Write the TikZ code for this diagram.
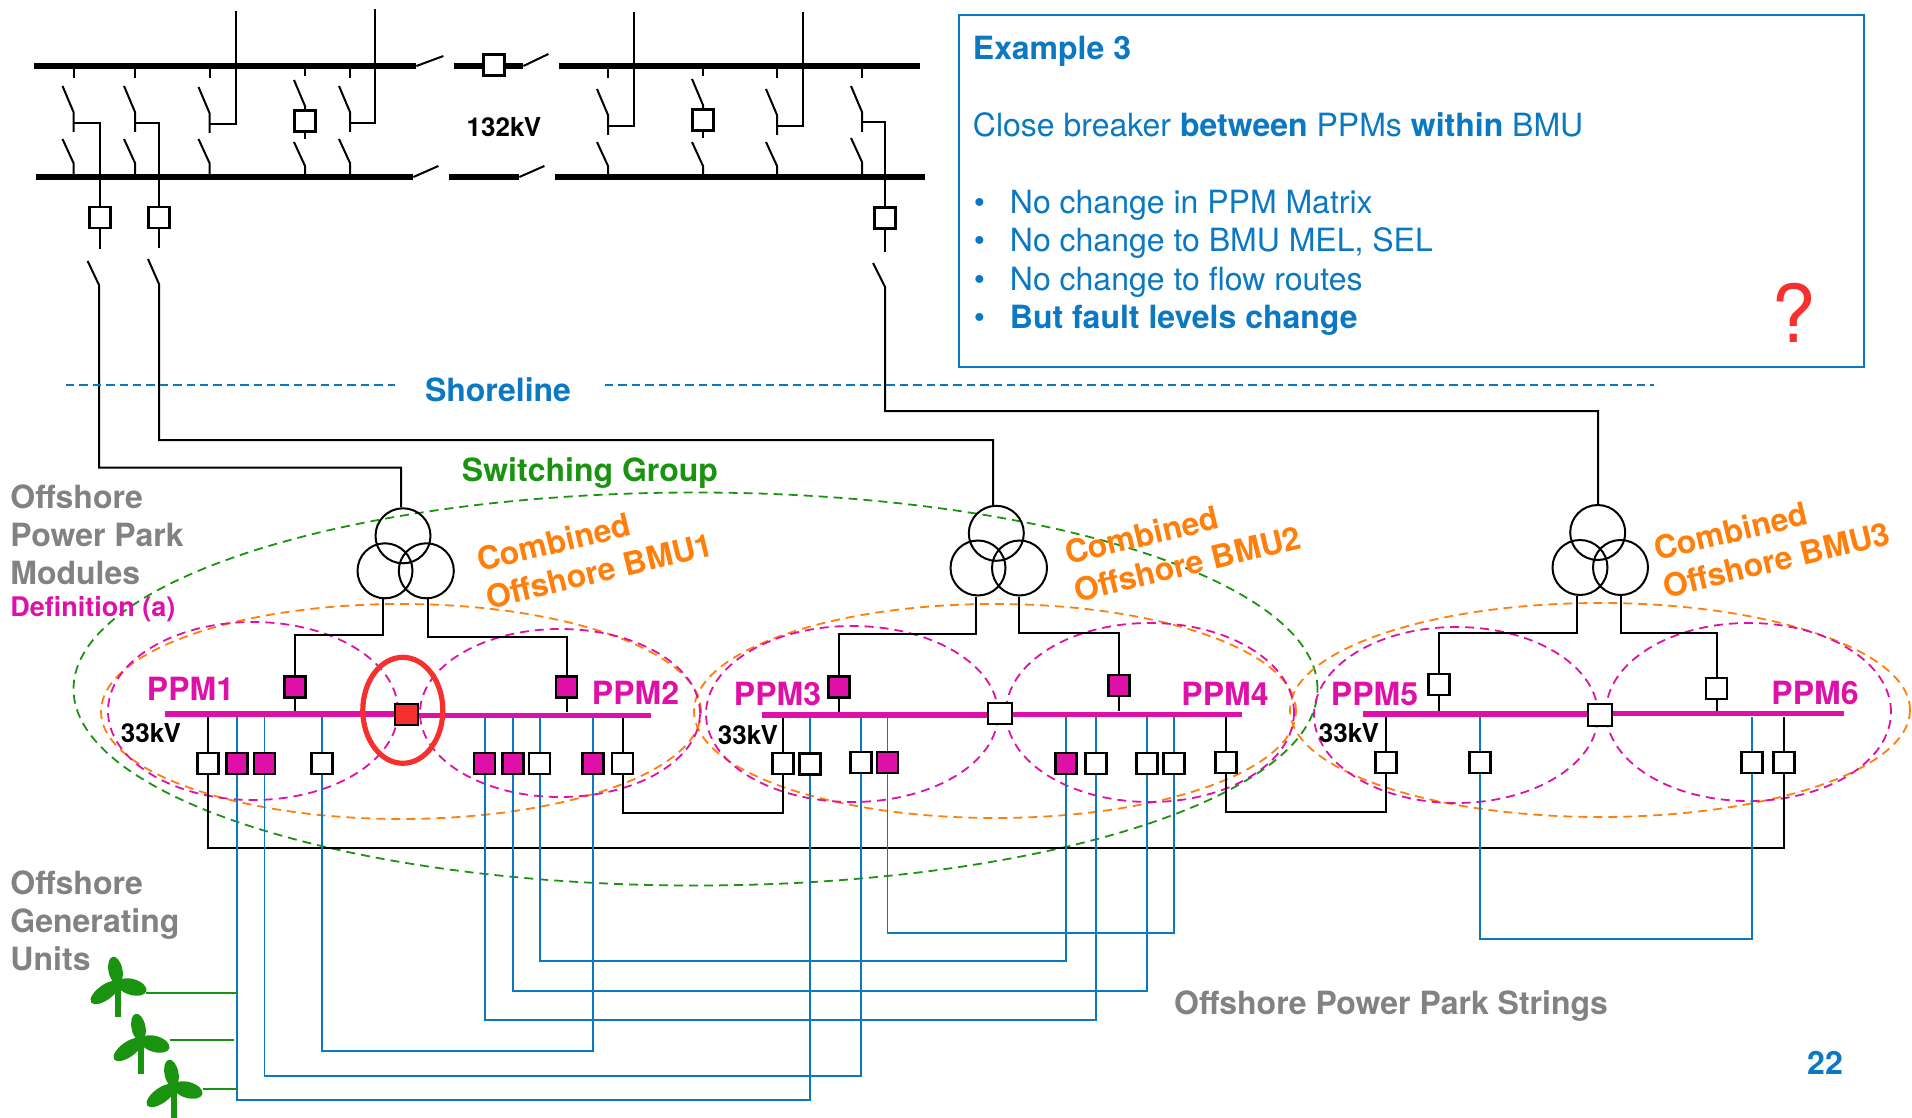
\documentclass[tikz,border=0pt]{standalone}
\usepackage{fontspec}
\setmainfont{TeX Gyre Heros}
\usepackage{tikz}
\usetikzlibrary{shapes.geometric, positioning}
\definecolor{ppmpink}{HTML}{DE10A8}
\definecolor{gengreen}{HTML}{1A9310}
\definecolor{cableblue}{HTML}{0A78C2}
\definecolor{bmuorange}{HTML}{FF7F0A}
\definecolor{labelgrey}{HTML}{828282}
\definecolor{closedred}{HTML}{F5302F}
\newcommand{\lbl}[1]{\fontsize{#1}{19.2}\selectfont\bfseries}
% disconnectors of one bay: x, upper blade, upper tail, lower blade
\newcommand{\bay}[4]{
	\draw[wire] (#1-11,#2) -- (#1,#2+26) -- (#1,#3);
	\draw[wire] (#1-11,#4) -- (#1,#4+24) -- (#1,175);
}
% wind turbine at hub x,y
\newcommand{\turbine}[2]{
	\fill[gengreen, rotate around={101:(#1-2.5,#2-12.5)}] (#1-2.5,#2-12.5) ellipse [x radius=14, y radius=7];
	\fill[gengreen, rotate around={-16:(#1+14,#2+4)}] (#1+14,#2+4) ellipse [x radius=15, y radius=8];
	\fill[gengreen, rotate around={36:(#1-13,#2+9.5)}] (#1-13,#2+9.5) ellipse [x radius=17, y radius=7.5];
	\draw[gengreen, line width=2.7pt] (#1,#2) -- (#1,#2+34);
}
\newcommand{\itm}{\hspace*{.5pt}\makebox[18pt][l]{\textbullet}}
\tikzset{%
    % bars
    hvbus/.style = {fill=black, inner sep=0pt, minimum height=3pt},
    ppmbus/.style = {fill=ppmpink, inner sep=0pt, minimum height=2.7pt},
    % connectors
    wire/.style = {line width=1pt, black},
    cable/.style = {line width=.9pt, cableblue},
    genwire/.style = {line width=1pt, gengreen},
    % breakers
    swoff/.style = {draw, line width=1.05pt, fill=white, inner sep=0pt, minimum width=10.5pt, minimum height=10.5pt},
    swon/.style = {swoff, fill=ppmpink},
    winding/.style = {draw, circle, line width=1pt, inner sep=0pt, minimum size=27.5pt},
    % dashed groups
    group/.style = {draw, ellipse, inner sep=0pt, line width=.9pt, dash pattern=on 4.5pt off 3pt},
}
\begin{document}
\begin{tikzpicture}[x=0.5pt, y=-0.5pt]
	\useasboundingbox (0,0) rectangle (1912,1118);

	% groups
	\node[group, draw=gengreen, minimum width=622pt, minimum height=196.5pt] (sgroup) at (695.5,689) {};
	\node[group, draw=bmuorange, minimum width=300pt, minimum height=107.5pt] (bmu1) at (401,711.5) {};
	\node[group, draw=bmuorange, minimum width=301pt, minimum height=107pt] (bmu2) at (995,711) {};
	\node[group, draw=bmuorange, minimum width=310pt, minimum height=107pt] (bmu3) at (1600,710) {};
	\node[group, draw=ppmpink, minimum width=145pt, minimum height=89pt] (ppm1) at (253,711) {};
	\node[group, draw=ppmpink, minimum width=140pt, minimum height=84pt] (ppm2) at (560,713) {};
	\node[group, draw=ppmpink, minimum width=146pt, minimum height=88pt] (ppm3) at (852,714) {};
	\node[group, draw=ppmpink, minimum width=144pt, minimum height=89.5pt] (ppm4) at (1150,712.5) {};
	\node[group, draw=ppmpink, minimum width=142pt, minimum height=88pt] (ppm5) at (1456,715) {};
	\node[group, draw=ppmpink, minimum width=142.5pt, minimum height=89pt] (ppm6) at (1748.5,712) {};

	% 132kV bars
	\node[hvbus, minimum width=191pt] (hv1) at (225,66) {};
	\node[hvbus, minimum width=34.5pt] (hv1m) at (488.5,66) {};
	\node[hvbus, minimum width=180.5pt] (hv1r) at (739.5,66) {};
	\node[hvbus, minimum width=188.5pt] (hv2) at (224.5,177) {};
	\node[hvbus, minimum width=35pt] (hv2m) at (484,177) {};
	\node[hvbus, minimum width=185pt] (hv2r) at (740,177) {};
	\draw[wire] (hv1.east) -- ++(27,-10);
	\draw[wire] (hv1m.east) -- ++(25,-12);
	\draw[wire] (hv2.east) -- ++(25,-11);
	\draw[wire] (hv2m.east) -- ++(25,-11);
	\node[swoff] (cbm) at (494,65) {};

	% 132kV bays
	\bay{73.5}{86}{132}{139}
	\bay{135}{86}{132}{139}
	\bay{209.5}{87}{133}{139}
	\bay{305}{80}{110}{142}
	\bay{350}{86}{132}{139}
	\bay{608}{89}{135}{142}
	\bay{703}{79}{109}{142}
	\bay{777}{89}{135}{142}
	\bay{862}{86}{132}{138}
	\coordinate (q1) at (73.5,122.7);
	\coordinate (q2) at (135,122.7);
	\coordinate (q3) at (209.5,123.7);
	\coordinate (q4) at (305,75);
	\coordinate (q5) at (350,122.7);
	\coordinate (q6) at (608,125.7);
	\coordinate (q7) at (703,75);
	\coordinate (q8) at (777,126);
	\coordinate (q9) at (862,122);
	\draw[wire] (q1 |- hv1.south) -- ++(0,9);
	\draw[wire] (q2 |- hv1.south) -- ++(0,9);
	\draw[wire] (q3 |- hv1.south) -- ++(0,9);
	\draw[wire] (q4 |- hv1.south) -- ++(0,7);
	\draw[wire] (q5 |- hv1.south) -- ++(0,9);
	\draw[wire] (q6 |- hv1r.south) -- ++(0,9);
	\draw[wire] (q7 |- hv1r.south) -- ++(0,7);
	\draw[wire] (q8 |- hv1r.south) -- ++(0,9);
	\draw[wire] (q9 |- hv1r.south) -- ++(0,9);
	\node[swoff] (cb4) at (305,121) {};
	\node[swoff] (cb7) at (703,120) {};
	\draw[wire] (cb4.south) -- ++(0,6);
	\draw[wire] (cb7.south) -- ++(0,6);
	\coordinate (top3) at (236,11);
	\coordinate (top5) at (375.4,9);
	\coordinate (top6) at (634,12);
	\coordinate (top8) at (803,12);
	\draw[wire] (q3) -| (top3);
	\draw[wire] (q5) -| (top5);
	\draw[wire] (q6) -| (top6);
	\draw[wire] (q8) -| (top8);

	% feeders
	\node[swoff] (cb1) at (100,217.5) {};
	\node[swoff] (cb2) at (159,217.5) {};
	\node[swoff] (cb9) at (885,218) {};
	\draw[wire] (q1) -| (cb1.north);
	\draw[wire] (q2) -| (cb2.north);
	\draw[wire] (q9) -| (cb9.north);
	\draw[wire] (cb1.south) -- ++(0,20);
	\draw[wire] (cb2.south) -- ++(0,19);
	\draw[wire] (cb9.south) -- ++(0,22);

	% transformers
	\node[winding] (t1a) at (403,535.8) {};
	\node[winding] (t1b) at (385,570.8) {};
	\node[winding] (t1c) at (426.3,570.8) {};
	\node[winding] (t2a) at (996.3,533.3) {};
	\node[winding] (t2b) at (978,568) {};
	\node[winding] (t2c) at (1019.5,568) {};
	\node[winding] (t3a) at (1597.7,532.5) {};
	\node[winding] (t3b) at (1580,567.5) {};
	\node[winding] (t3c) at (1620.5,567.5) {};

	\coordinate (l1) at (99,285);
	\coordinate (l2) at (159,284);
	\coordinate (l3) at (885,287);
	\coordinate (r1) at (401,467.5);
	\coordinate (r2) at (993,440);
	\coordinate (r3) at (1598,411);
	\draw[wire] (87.6,261) -- (l1) |- (r1) -- (r1 |- t1a.north);
	\draw[wire] (148,259) -- (l2) |- (r2) -- (r2 |- t2a.north);
	\draw[wire] (873,263) -- (l3) |- (r3) -- (r3 |- t3a.north);

	% 33kV bars
	\node[ppmbus, minimum width=115pt] (pbar1) at (280,714) {};
	\node[ppmbus, minimum width=116.5pt] (pbar2) at (534.5,715.3) {};
	\node[ppmbus, minimum width=113pt] (pbar3) at (875,715) {};
	\node[ppmbus, minimum width=115pt] (pbar4) at (1127,714.3) {};
	\node[ppmbus, minimum width=112.5pt] (pbar5) at (1475,714) {};
	\node[ppmbus, minimum width=116pt] (pbar6) at (1727.5,713.7) {};
	\node[swoff, fill=closedred, minimum height=10.5pt, minimum width=11.5pt] (cs12) at (406.5,714.5) {};
	\node[swoff, minimum width=12pt] (cs34) at (1000,713.5) {};
	\node[swoff, minimum width=12pt, minimum height=11pt] (cs56) at (1599.6,715) {};
	\node[draw=closedred, ellipse, inner sep=0pt, line width=2.6pt, minimum width=40pt, minimum height=53pt] (closed) at (402.8,710.3) {};

	% transformer connections
	\node[swon] (c1) at (295,687) {};
	\node[swon] (c2) at (566.5,687) {};
	\node[swon] (c3) at (839,687) {};
	\node[swon] (c4) at (1119,685.5) {};
	\node[swoff] (c5) at (1439,684.5) {};
	\node[swoff] (c6) at (1716.5,688.7) {};
	\coordinate (d1b) at (382.5,635);
	\coordinate (d1c) at (428,636.7);
	\coordinate (d2b) at (975.5,634);
	\coordinate (d2c) at (1018.8,633.3);
	\coordinate (d3b) at (1577,633.3);
	\coordinate (d3c) at (1620.7,632.7);
	\draw[wire] (d1b |- t1b.south) -- (d1b) -| (c1.north);
	\draw[wire] (d1c |- t1c.south) -- (d1c) -| (c2.north);
	\draw[wire] (d2b |- t2b.south) -- (d2b) -| (c3.north);
	\draw[wire] (d2c |- t2c.south) -- (d2c) -| (c4.north);
	\draw[wire] (d3b |- t3b.south) -- (d3b) -| (c5.north);
	\draw[wire] (d3c |- t3c.south) -- (d3c) -| (c6.north);
	\draw[wire] (c1.south) -- (c1.south |- pbar1.north);
	\draw[wire] (c2.south) -- (c2.south |- pbar2.north);
	\draw[wire] (c3.south) -- (c3.south |- pbar3.north);
	\draw[wire] (c4.south) -- (c4.south |- pbar4.north);
	\draw[wire] (c5.south) -- (c5.south |- pbar5.north);
	\draw[wire] (c6.south) -- (c6.south |- pbar6.north);

	% string breakers
	\node[swoff] (sw1a) at (208,763.5) {};
	\node[swon] (sw1b) at (237,763.5) {};
	\node[swon] (sw1c) at (264.5,763.5) {};
	\node[swoff] (sw1d) at (322,763.5) {};
	\node[swon] (sw2a) at (484.8,763.5) {};
	\node[swon] (sw2b) at (513,763.5) {};
	\node[swoff] (sw2c) at (539.7,763.5) {};
	\node[swon] (sw2d) at (593,763.5) {};
	\node[swoff] (sw2e) at (622.5,763.5) {};
	\node[swoff] (sw3a) at (783,763.5) {};
	\node[swoff] (sw3b) at (810,764) {};
	\node[swoff] (sw3c) at (861,762.5) {};
	\node[swon] (sw3d) at (887.5,762.5) {};
	\node[swon] (sw4a) at (1066,763.5) {};
	\node[swoff] (sw4b) at (1096,763.5) {};
	\node[swoff] (sw4c) at (1147,763.5) {};
	\node[swoff] (sw4d) at (1174,763.5) {};
	\node[swoff] (sw4e) at (1226,762.5) {};
	\node[swoff] (sw5a) at (1386,762.5) {};
	\node[swoff] (sw5b) at (1480,762.5) {};
	\node[swoff] (sw6a) at (1752,762.5) {};
	\node[swoff] (sw6b) at (1784,762.5) {};

	% stubs up to the bars
	\draw[wire] (sw1a.north) -- (sw1a.north |- pbar1.south);
	\draw[cable] (sw1b.north) -- (sw1b.north |- pbar1.south);
	\draw[cable] (sw1c.north) -- (sw1c.north |- pbar1.south);
	\draw[cable] (sw1d.north) -- (sw1d.north |- pbar1.south);
	\draw[cable] (sw2a.north) -- (sw2a.north |- pbar2.south);
	\draw[cable] (sw2b.north) -- (sw2b.north |- pbar2.south);
	\draw[cable] (sw2c.north) -- (sw2c.north |- pbar2.south);
	\draw[cable] (sw2d.north) -- (sw2d.north |- pbar2.south);
	\draw[wire] (sw2e.north) -- (sw2e.north |- pbar2.south);
	\draw[wire] (sw3a.north) -- (sw3a.north |- pbar3.south);
	\draw[cable] (sw3b.north) -- (sw3b.north |- pbar3.south);
	\draw[cable] (sw3c.north) -- (sw3c.north |- pbar3.south);
	\draw[cable] (sw3d.north) -- (sw3d.north |- pbar3.south);
	\draw[cable] (sw4a.north) -- (sw4a.north |- pbar4.south);
	\draw[cable] (sw4b.north) -- (sw4b.north |- pbar4.south);
	\draw[cable] (sw4c.north) -- (sw4c.north |- pbar4.south);
	\draw[cable] (sw4d.north) -- (sw4d.north |- pbar4.south);
	\draw[wire] (sw4e.north) -- (sw4e.north |- pbar4.south);
	\draw[wire] (sw5a.north) -- (sw5a.north |- pbar5.south);
	\draw[cable] (sw5b.north) -- (sw5b.north |- pbar5.south);
	\draw[cable] (sw6a.north) -- (sw6a.north |- pbar6.south);
	\draw[wire] (sw6b.north) -- (sw6b.north |- pbar6.south);

	% ring links
	\draw[wire] (sw1a.south) -- (sw1a |- 0,848) -| (sw6b.south);
	\draw[wire] (sw2e.south) -- (sw2e |- 0,812.7) -| (sw3a.south);
	\draw[wire] (sw4e.south) -- (sw4e |- 0,811.7) -| (sw5a.south);

	% strings
	\draw[cable] (sw1b.south) -- (sw1b |- 0,1100) -| (sw3b.south);
	\draw[cable] (sw1c.south) -- (sw1c |- 0,1076) -| (sw3c.south);
	\draw[cable] (sw1d.south) -- (sw1d |- 0,1050.7) -| (sw2d.south);
	\draw[cable] (sw2a.south) -- (sw2a |- 0,1020.3) -| (sw4b.south);
	\draw[cable] (sw2b.south) -- (sw2b |- 0,990.7) -| (sw4c.south);
	\draw[cable] (sw2c.south) -- (sw2c |- 0,961) -| (sw4a.south);
	\draw[cable] (sw3d.south) -- (sw3d |- 0,933) -| (sw4d.south);
	\draw[cable] (sw5b.south) -- (sw5b |- 0,939) -| (sw6a.south);

	% turbines
	\turbine{118}{983}
	\turbine{141}{1040}
	\turbine{174}{1086}
	\coordinate (g1) at (146,992.7);
	\coordinate (g2) at (169.6,1040);
	\coordinate (g2e) at (234,1040);
	\coordinate (g3) at (203,1089);
	\draw[genwire] (g1) -- (g1 -| sw1b);
	\draw[genwire] (g2) -- (g2e);
	\draw[genwire] (g3) -- (g3 -| sw1b);

	% shoreline
	\node[text=cableblue, font=\lbl{16}] (shore) at (498,390) {Shoreline};
	\coordinate (sh1) at (66,385);
	\coordinate (sh2) at (395,385);
	\coordinate (sh3) at (605,385);
	\coordinate (sh4) at (1654,385);
	\draw[cableblue, line width=.9pt, dash pattern=on 4.2pt off 2.5pt] (sh1) -- (sh2);
	\draw[cableblue, line width=.9pt, dash pattern=on 4.2pt off 2.5pt] (sh3) -- (sh4);

	% labels
	\node[font=\lbl{13}] (kv132) at (504,127.5) {132kV};
	\node[font=\lbl{13}] (kv33a) at (151,732.7) {33kV};
	\node[font=\lbl{13}] (kv33b) at (748,735) {33kV};
	\node[font=\lbl{13}] (kv33c) at (1349,732.7) {33kV};
	\node[text=gengreen, font=\lbl{16}] (sglabel) at (590,473.5) {Switching Group};
	\node[text=ppmpink, font=\lbl{16}] (lab1) at (190.5,688.5) {PPM1};
	\node[text=ppmpink, font=\lbl{16}] (lab2) at (635.5,692.5) {PPM2};
	\node[text=ppmpink, font=\lbl{16}] (lab3) at (777.5,693.5) {PPM3};
	\node[text=ppmpink, font=\lbl{16}] (lab4) at (1225,693.5) {PPM4};
	\node[text=ppmpink, font=\lbl{16}] (lab5) at (1374.5,693.5) {PPM5};
	\node[text=ppmpink, font=\lbl{16}] (lab6) at (1815,692.5) {PPM6};
	\node[text=bmuorange, font=\lbl{16}, align=left, rotate=13.5] (blab1) at (595,552) {Combined\\Offshore BMU1};
	\node[text=bmuorange, font=\lbl{16}, align=left, rotate=13.5] (blab2) at (1183,545) {Combined\\Offshore BMU2};
	\node[text=bmuorange, font=\lbl{16}, align=left, rotate=13.5] (blab3) at (1772,541) {Combined\\Offshore BMU3};
	\node[text=labelgrey, font=\lbl{16}, align=left, anchor=north west, inner sep=0pt] (pmods) at (10,484) {Offshore\\Power Park\\Modules};
	\node[text=ppmpink, font=\lbl{13.5}, anchor=west, inner sep=0pt] (defa) at (10,609) {Definition (a)};
	\node[text=labelgrey, font=\lbl{16}, align=left, anchor=north west, inner sep=0pt] (gunits) at (10,870) {Offshore\\Generating\\Units};
	\node[text=labelgrey, font=\lbl{16}] (pstrings) at (1391,1006.5) {Offshore Power Park Strings};
	\node[text=cableblue, font=\lbl{16}] (pagenum) at (1825,1063) {22};

	% example box
	\node[draw=cableblue, line width=1pt, inner sep=0pt, minimum width=452.5pt, minimum height=175.5pt] (frame) at (1411,191) {};
	\node[text=cableblue, anchor=north west, inner sep=0pt, align=left, font=\fontsize{16}{19.2}\selectfont] (note) at (972.5,36) {{\bfseries Example 3}\\[0pt]
		\strut\\
		Close breaker {\bfseries between} PPMs {\bfseries within} BMU\\
		\strut\\
		\itm No change in PPM Matrix\\
		\itm No change to BMU MEL, SEL\\
		\itm No change to flow routes\\
		\itm {\bfseries But fault levels change}};
	\node[text=closedred, font=\fontsize{40}{40}\selectfont] (qmark) at (1794,313) {?};
\end{tikzpicture}
\end{document}
